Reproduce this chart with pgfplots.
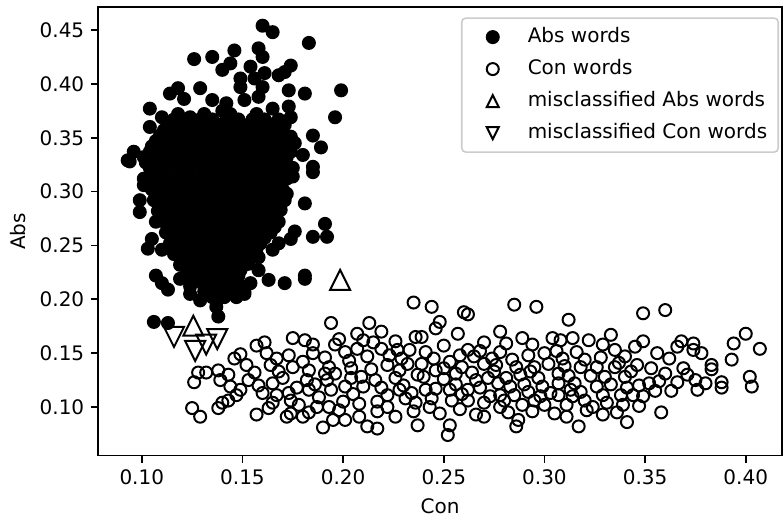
\documentclass[border=0pt]{standalone}
\usepackage{fontspec}
\setmainfont{DejaVu Sans}
\usepackage{pgfplots}
\pgfplotsset{compat=1.18}
\pgfdeclareplotmark{tup}{%
 \pgfpathmoveto{\pgfqpoint{0pt}{\pgfplotmarksize}}%
 \pgfpathlineto{\pgfqpoint{-\pgfplotmarksize}{-\pgfplotmarksize}}%
 \pgfpathlineto{\pgfqpoint{\pgfplotmarksize}{-\pgfplotmarksize}}%
 \pgfpathclose\pgfusepathqstroke}
\pgfdeclareplotmark{tdown}{%
 \pgfpathmoveto{\pgfqpoint{0pt}{-\pgfplotmarksize}}%
 \pgfpathlineto{\pgfqpoint{-\pgfplotmarksize}{\pgfplotmarksize}}%
 \pgfpathlineto{\pgfqpoint{\pgfplotmarksize}{\pgfplotmarksize}}%
 \pgfpathclose\pgfusepathqstroke}
\begin{document}
\begin{tikzpicture}
\begin{axis}[
 name=ax,
 scale only axis, width=341.85pt, height=224.2pt,
 xmin=0.0784, xmax=0.418, ymin=0.0548, ymax=0.4711,
 xtick={0.10,0.15,0.20,0.25,0.30,0.35,0.40},
 ytick={0.10,0.15,0.20,0.25,0.30,0.35,0.40,0.45},
 tick align=outside, xtick pos=bottom, ytick pos=left,
 major tick length=3.5pt,
 every tick/.style={black, line width=0.8pt},
 axis line style={line width=0.8pt},
 /pgf/number format/.cd, fixed, fixed zerofill, precision=2, assume math mode=true,
 /pgfplots/.cd,
 xlabel={Con}, ylabel={Abs},
 legend cell align=left,
 legend image code/.code={\path[draw=none, fill=none] (0pt,0pt) -- (20pt,0pt); \draw[#1, mark size=3pt] plot coordinates {(10pt,0pt)};},
 legend style={at={(1,1)}, anchor=north east, xshift=-1.5pt, yshift=-5pt,
   draw=black!20, line width=0.8pt, rounded corners=2pt, fill=white,
   inner xsep=5.5pt, inner ysep=4pt, row sep=5pt, column sep=7.5pt,
   nodes={inner xsep=0pt, inner ysep=0pt, text height=8pt, text depth=3pt}},
]
\addplot[only marks, mark=*, mark size=3pt, mark options={fill=black, draw=black, line width=1pt}] table {
x y
0.160 0.454
0.165 0.448
0.183 0.438
0.146 0.431
0.158 0.433
0.126 0.423
0.135 0.425
0.160 0.425
0.144 0.419
0.140 0.413
0.154 0.416
0.174 0.417
0.171 0.411
0.168 0.408
0.149 0.405
0.156 0.405
0.161 0.410
0.199 0.394
0.181 0.391
0.173 0.394
0.118 0.396
0.114 0.391
0.129 0.396
0.149 0.397
0.160 0.397
0.104 0.377
0.110 0.369
0.104 0.360
0.121 0.386
0.124 0.369
0.135 0.385
0.142 0.382
0.151 0.385
0.158 0.388
0.165 0.377
0.173 0.379
0.174 0.369
0.166 0.363
0.196 0.369
0.185 0.352
0.189 0.341
0.180 0.334
0.185 0.323
0.174 0.351
0.176 0.345
0.096 0.337
0.093 0.329
0.140 0.375
0.153 0.362
0.129 0.366
0.094 0.328
0.101 0.306
0.099 0.292
0.099 0.281
0.107 0.272
0.105 0.256
0.103 0.247
0.110 0.246
0.107 0.222
0.110 0.215
0.113 0.209
0.119 0.219
0.124 0.205
0.129 0.199
0.131 0.216
0.137 0.193
0.138 0.184
0.106 0.179
0.113 0.178
0.147 0.202
0.151 0.205
0.154 0.215
0.158 0.227
0.163 0.218
0.171 0.215
0.181 0.219
0.181 0.222
0.165 0.246
0.168 0.252
0.174 0.256
0.176 0.263
0.185 0.258
0.191 0.270
0.192 0.258
0.181 0.289
0.185 0.318
0.175 0.314
0.172 0.298
0.169 0.283
0.156 0.272
0.154 0.264
0.158 0.239
0.153 0.233
0.146 0.221
0.118 0.372
0.131 0.372
0.144 0.372
0.157 0.372
0.113 0.362
0.120 0.362
0.126 0.362
0.133 0.362
0.139 0.362
0.146 0.362
0.159 0.362
0.165 0.362
0.171 0.362
0.109 0.352
0.116 0.352
0.122 0.352
0.129 0.352
0.135 0.352
0.142 0.352
0.148 0.352
0.155 0.352
0.161 0.352
0.168 0.352
0.105 0.342
0.112 0.342
0.118 0.342
0.125 0.342
0.131 0.342
0.138 0.342
0.144 0.342
0.151 0.342
0.157 0.342
0.164 0.342
0.170 0.342
0.101 0.332
0.108 0.332
0.114 0.332
0.121 0.332
0.127 0.332
0.134 0.332
0.140 0.332
0.147 0.332
0.153 0.332
0.160 0.332
0.166 0.332
0.172 0.332
0.104 0.322
0.110 0.322
0.117 0.322
0.123 0.322
0.130 0.322
0.136 0.322
0.143 0.322
0.149 0.322
0.156 0.322
0.162 0.322
0.169 0.322
0.175 0.322
0.101 0.312
0.108 0.312
0.114 0.312
0.121 0.312
0.127 0.312
0.134 0.312
0.140 0.312
0.147 0.312
0.153 0.312
0.160 0.312
0.166 0.312
0.172 0.312
0.105 0.302
0.111 0.302
0.118 0.302
0.124 0.302
0.131 0.302
0.137 0.302
0.144 0.302
0.150 0.302
0.157 0.302
0.163 0.302
0.170 0.302
0.106 0.292
0.113 0.292
0.119 0.292
0.126 0.292
0.132 0.292
0.139 0.292
0.145 0.292
0.152 0.292
0.158 0.292
0.165 0.292
0.171 0.292
0.108 0.282
0.115 0.282
0.121 0.282
0.128 0.282
0.134 0.282
0.141 0.282
0.147 0.282
0.154 0.282
0.160 0.282
0.166 0.282
0.111 0.272
0.117 0.272
0.124 0.272
0.130 0.272
0.137 0.272
0.143 0.272
0.150 0.272
0.156 0.272
0.163 0.272
0.168 0.272
0.112 0.262
0.119 0.262
0.125 0.262
0.132 0.262
0.138 0.262
0.145 0.262
0.151 0.262
0.158 0.262
0.164 0.262
0.114 0.252
0.121 0.252
0.127 0.252
0.134 0.252
0.140 0.252
0.147 0.252
0.153 0.252
0.159 0.252
0.116 0.242
0.123 0.242
0.129 0.242
0.136 0.242
0.142 0.242
0.149 0.242
0.155 0.242
0.119 0.232
0.126 0.232
0.132 0.232
0.139 0.232
0.145 0.232
0.151 0.232
0.122 0.222
0.128 0.222
0.135 0.222
0.141 0.222
0.148 0.222
0.124 0.212
0.131 0.212
0.137 0.212
0.143 0.212
0.150 0.212
0.135 0.202
0.141 0.202
0.116 0.367
0.122 0.367
0.129 0.367
0.135 0.367
0.142 0.367
0.148 0.367
0.155 0.367
0.161 0.367
0.168 0.367
0.111 0.357
0.118 0.357
0.124 0.357
0.131 0.357
0.137 0.357
0.144 0.357
0.150 0.357
0.157 0.357
0.163 0.357
0.169 0.357
0.107 0.347
0.114 0.347
0.120 0.347
0.127 0.347
0.133 0.347
0.140 0.347
0.146 0.347
0.153 0.347
0.159 0.347
0.166 0.347
0.172 0.347
0.104 0.337
0.110 0.337
0.117 0.337
0.123 0.337
0.130 0.337
0.136 0.337
0.143 0.337
0.149 0.337
0.156 0.337
0.162 0.337
0.168 0.337
0.174 0.337
0.102 0.327
0.107 0.327
0.113 0.327
0.120 0.327
0.126 0.327
0.133 0.327
0.139 0.327
0.146 0.327
0.152 0.327
0.159 0.327
0.165 0.327
0.171 0.327
0.105 0.317
0.111 0.317
0.118 0.317
0.124 0.317
0.131 0.317
0.137 0.317
0.144 0.317
0.150 0.317
0.157 0.317
0.163 0.317
0.169 0.317
0.104 0.307
0.111 0.307
0.117 0.307
0.124 0.307
0.130 0.307
0.137 0.307
0.143 0.307
0.150 0.307
0.156 0.307
0.163 0.307
0.168 0.307
0.108 0.297
0.114 0.297
0.121 0.297
0.127 0.297
0.134 0.297
0.140 0.297
0.147 0.297
0.153 0.297
0.160 0.297
0.166 0.297
0.110 0.287
0.117 0.287
0.123 0.287
0.130 0.287
0.136 0.287
0.143 0.287
0.149 0.287
0.156 0.287
0.162 0.287
0.168 0.287
0.112 0.277
0.119 0.277
0.125 0.277
0.132 0.277
0.138 0.277
0.145 0.277
0.151 0.277
0.158 0.277
0.164 0.277
0.114 0.267
0.121 0.267
0.127 0.267
0.134 0.267
0.140 0.267
0.147 0.267
0.153 0.267
0.160 0.267
0.166 0.267
0.116 0.257
0.123 0.257
0.129 0.257
0.136 0.257
0.142 0.257
0.149 0.257
0.155 0.257
0.161 0.257
0.118 0.247
0.125 0.247
0.131 0.247
0.138 0.247
0.144 0.247
0.151 0.247
0.157 0.247
0.121 0.237
0.127 0.237
0.134 0.237
0.140 0.237
0.147 0.237
0.153 0.237
0.124 0.227
0.130 0.227
0.137 0.227
0.143 0.227
0.149 0.227
0.127 0.217
0.134 0.217
0.140 0.217
0.146 0.217
0.131 0.207
0.138 0.207
0.144 0.207
0.151 0.207
};
\addlegendentry{Abs words}
\addplot[only marks, mark=o, mark size=3pt, mark options={draw=black, line width=1pt}] table {
x y
0.175 0.164
0.181 0.162
0.185 0.158
0.161 0.160
0.157 0.157
0.149 0.149
0.146 0.145
0.162 0.150
0.164 0.139
0.167 0.145
0.173 0.148
0.175 0.137
0.183 0.134
0.180 0.142
0.191 0.146
0.193 0.137
0.128 0.132
0.126 0.123
0.132 0.132
0.138 0.134
0.143 0.130
0.139 0.125
0.144 0.119
0.149 0.116
0.147 0.111
0.143 0.106
0.140 0.104
0.138 0.099
0.156 0.132
0.158 0.120
0.160 0.113
0.165 0.122
0.167 0.111
0.173 0.113
0.174 0.106
0.182 0.125
0.183 0.116
0.188 0.109
0.192 0.125
0.194 0.116
0.193 0.100
0.187 0.100
0.183 0.095
0.180 0.091
0.174 0.094
0.172 0.091
0.163 0.099
0.157 0.093
0.125 0.099
0.129 0.091
0.190 0.081
0.195 0.088
0.194 0.178
0.235 0.197
0.244 0.193
0.260 0.188
0.262 0.186
0.213 0.178
0.219 0.170
0.207 0.168
0.210 0.162
0.236 0.165
0.239 0.165
0.246 0.173
0.248 0.179
0.257 0.168
0.219 0.154
0.226 0.161
0.227 0.153
0.233 0.153
0.241 0.151
0.262 0.153
0.265 0.147
0.253 0.142
0.259 0.137
0.196 0.158
0.201 0.151
0.207 0.154
0.212 0.147
0.222 0.139
0.228 0.134
0.239 0.140
0.246 0.134
0.237 0.130
0.204 0.136
0.214 0.135
0.216 0.125
0.201 0.119
0.209 0.128
0.210 0.119
0.230 0.120
0.241 0.116
0.246 0.117
0.253 0.116
0.262 0.116
0.266 0.125
0.200 0.105
0.208 0.103
0.217 0.105
0.222 0.111
0.231 0.108
0.243 0.100
0.248 0.094
0.254 0.106
0.262 0.106
0.266 0.093
0.208 0.091
0.217 0.080
0.212 0.082
0.201 0.088
0.226 0.091
0.237 0.083
0.253 0.083
0.252 0.074
0.285 0.195
0.296 0.193
0.312 0.181
0.349 0.187
0.278 0.170
0.281 0.159
0.289 0.164
0.294 0.158
0.304 0.164
0.308 0.162
0.314 0.164
0.316 0.151
0.322 0.162
0.329 0.158
0.333 0.167
0.335 0.153
0.340 0.147
0.345 0.156
0.274 0.145
0.284 0.144
0.292 0.148
0.295 0.137
0.309 0.145
0.318 0.137
0.326 0.137
0.335 0.137
0.346 0.139
0.275 0.133
0.288 0.130
0.307 0.131
0.330 0.128
0.340 0.128
0.277 0.122
0.283 0.119
0.292 0.114
0.299 0.119
0.307 0.122
0.315 0.122
0.326 0.119
0.347 0.120
0.273 0.110
0.278 0.111
0.285 0.111
0.295 0.106
0.307 0.111
0.314 0.110
0.320 0.106
0.329 0.111
0.338 0.111
0.344 0.111
0.278 0.100
0.289 0.102
0.300 0.102
0.305 0.094
0.321 0.097
0.329 0.093
0.339 0.102
0.287 0.088
0.286 0.082
0.317 0.082
0.341 0.086
0.360 0.190
0.349 0.161
0.368 0.161
0.366 0.156
0.374 0.159
0.374 0.153
0.378 0.150
0.383 0.139
0.383 0.135
0.394 0.159
0.400 0.168
0.407 0.154
0.393 0.144
0.353 0.136
0.360 0.131
0.369 0.136
0.366 0.123
0.375 0.125
0.376 0.116
0.388 0.123
0.388 0.118
0.402 0.128
0.403 0.119
0.352 0.122
0.349 0.110
0.358 0.095
0.204 0.127
0.219 0.118
0.226 0.127
0.234 0.113
0.250 0.126
0.256 0.131
0.268 0.118
0.270 0.104
0.281 0.127
0.297 0.127
0.303 0.113
0.311 0.102
0.318 0.114
0.323 0.129
0.333 0.121
0.310 0.138
0.300 0.150
0.286 0.137
0.270 0.140
0.268 0.152
0.250 0.157
0.229 0.145
0.217 0.096
0.235 0.096
0.258 0.098
0.294 0.096
0.270 0.091
0.186 0.121
0.170 0.127
0.178 0.102
0.196 0.131
0.198 0.097
0.153 0.125
0.165 0.104
0.355 0.115
0.362 0.145
0.336 0.095
0.311 0.091
0.203 0.143
0.215 0.160
0.223 0.148
0.232 0.140
0.240 0.128
0.244 0.108
0.256 0.121
0.259 0.112
0.264 0.132
0.272 0.127
0.276 0.139
0.280 0.106
0.282 0.095
0.290 0.121
0.293 0.133
0.298 0.110
0.302 0.140
0.306 0.152
0.312 0.129
0.313 0.116
0.320 0.144
0.324 0.100
0.328 0.146
0.331 0.104
0.337 0.141
0.341 0.118
0.343 0.133
0.347 0.101
0.357 0.124
0.363 0.115
0.371 0.130
0.380 0.122
0.356 0.150
0.228 0.116
0.222 0.100
0.236 0.104
0.205 0.112
0.191 0.131
0.177 0.118
0.168 0.133
0.152 0.139
0.185 0.150
0.198 0.163
0.250 0.136
0.245 0.145
0.258 0.148
0.270 0.160
0.278 0.151
};
\addlegendentry{Con words}
\addplot[only marks, mark=tup, mark size=5pt, mark options={draw=black, line width=1pt}] table {
x y
0.1985 0.218
0.1256 0.1755
};
\addlegendentry{misclassified Abs words}
\addplot[only marks, mark=tdown, mark size=5pt, mark options={draw=black, line width=1pt}] table {
x y
0.1160 0.1650
0.1265 0.1520
0.1320 0.1580
0.1375 0.1630
};
\addlegendentry{misclassified Con words}
\end{axis}
\pgfresetboundingbox
\path[use as bounding box] ([shift={(-49.15pt,-31.15pt)}]ax.south west) rectangle ([shift={(0.5pt,3.65pt)}]ax.north east);
\end{tikzpicture}
\end{document}
